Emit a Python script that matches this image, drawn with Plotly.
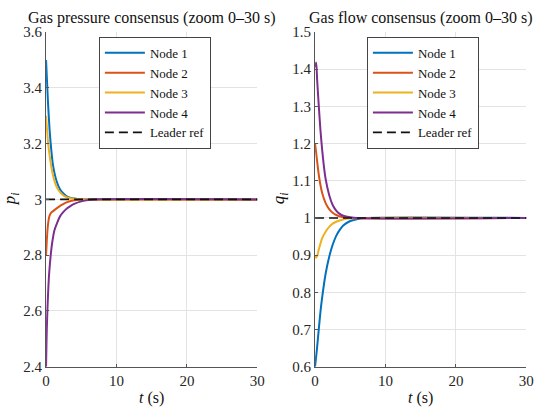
import plotly.graph_objects as go

# values (t in seconds)
t_p1 = [0, 0.25, 0.5, 0.75, 1, 1.5, 2, 2.5, 3, 4, 5, 6, 30]
p1 = [3.5, 3.36, 3.25, 3.175, 3.12, 3.065, 3.035, 3.02, 3.01, 3.003, 3.0, 3.0, 3.0]
t_p2 = [0, 0.1, 0.2, 0.3, 0.4, 0.5, 0.7, 1, 1.5, 2, 2.5, 3, 4, 5, 6, 30]
p2 = [2.8, 2.85, 2.89, 2.915, 2.932, 2.942, 2.952, 2.958, 2.968, 2.977, 2.984, 2.99, 2.997, 2.999, 3.0, 3.0]
t_p3 = [0, 0.3, 0.6, 1, 1.5, 2, 2.5, 3, 4, 5, 30]
p3 = [3.3, 3.2, 3.14, 3.085, 3.045, 3.025, 3.013, 3.007, 3.002, 3.0, 3.0]
t_p4 = [0, 0.05, 0.1, 0.2, 0.3, 0.4, 0.55, 0.7, 0.9, 1.2, 1.6, 2, 2.5, 3, 3.5, 4, 5, 6, 7, 30]
p4 = [2.4, 2.47, 2.53, 2.61, 2.67, 2.72, 2.77, 2.81, 2.85, 2.89, 2.918, 2.94, 2.956, 2.968,
      2.977, 2.984, 2.993, 2.998, 3.0, 3.0]

t_q1 = [0, 0.25, 0.5, 0.75, 1, 1.5, 2, 2.5, 3, 3.5, 4, 5, 6, 7, 30]
q1 = [0.6, 0.645, 0.695, 0.745, 0.785, 0.85, 0.895, 0.928, 0.952, 0.968, 0.98, 0.992, 0.997, 1.0, 1.0]
t_q2 = [0, 0.25, 0.5, 0.75, 1, 1.5, 2, 2.5, 3, 4, 5, 30]
q2 = [1.2, 1.16, 1.12, 1.09, 1.068, 1.04, 1.024, 1.014, 1.008, 1.002, 1.0, 1.0]
t_q3 = [0, 0.15, 0.3, 0.5, 0.75, 1, 1.5, 2, 2.5, 3, 4, 5, 6, 30]
q3 = [0.9, 0.893, 0.898, 0.913, 0.93, 0.945, 0.963, 0.976, 0.985, 0.99, 0.996, 0.999, 1.0, 1.0]
t_q4 = [0, 0.15, 0.3, 0.5, 0.75, 1, 1.25, 1.5, 2, 2.5, 3, 3.5, 4, 5, 6, 30]
q4 = [1.405, 1.418, 1.37, 1.31, 1.24, 1.185, 1.14, 1.105, 1.062, 1.035, 1.02, 1.011, 1.006, 1.002, 1.0, 1.0]

t_ref = [0, 30]
p_ref = [3.0, 3.0]
q_ref = [1.0, 1.0]

names = ['Node 1', 'Node 2', 'Node 3', 'Node 4']
colors = ['#0072BD', '#D95319', '#EDB120', '#7E2F8E']

FONT = 'Liberation Serif'

fig = go.Figure()

left = [(t_p1, p1), (t_p2, p2), (t_p3, p3), (t_p4, p4)]
right = [(t_q1, q1), (t_q2, q2), (t_q3, q3), (t_q4, q4)]

for (t, y), nm, c in zip(left, names, colors):
    fig.add_trace(go.Scatter(x=t, y=y, name=nm, mode='lines', line=dict(color=c, width=2, shape='spline', smoothing=0.8),
                             xaxis='x', yaxis='y', legend='legend'))
fig.add_trace(go.Scatter(x=t_ref, y=p_ref, name='Leader ref', mode='lines',
                         line=dict(color='#111111', width=1.6, dash='9px,5px'), xaxis='x', yaxis='y', legend='legend'))

for (t, y), nm, c in zip(right, names, colors):
    fig.add_trace(go.Scatter(x=t, y=y, name=nm, mode='lines', line=dict(color=c, width=2, shape='spline', smoothing=0.8),
                             xaxis='x2', yaxis='y2', legend='legend2'))
fig.add_trace(go.Scatter(x=t_ref, y=q_ref, name='Leader ref', mode='lines',
                         line=dict(color='#111111', width=1.6, dash='9px,5px'), xaxis='x2', yaxis='y2', legend='legend2'))

W, H = 550, 419
xd1 = [43 / W, 259 / W]
xd2 = [318 / W, 534 / W]
yd = [1 - 373 / H, 1 - 25 / H]

axis_common = dict(showgrid=True, gridcolor='#e3e3e3', gridwidth=1, zeroline=False,
                   showline=True, linecolor='#555555', linewidth=1,
                   ticks='inside', ticklen=3, tickcolor='#555555',
                   tickfont=dict(family=FONT, size=15, color='#262626'))

leg_common = dict(y=1 - 30 / H, xanchor='left', yanchor='top', bgcolor='white',
                  bordercolor='#444444', borderwidth=1, itemwidth=40,
                  font=dict(family=FONT, size=13, color='#111111'), tracegroupgap=0)

fig.update_layout(
    width=W, height=H,
    margin=dict(l=0, r=0, t=0, b=0),
    paper_bgcolor='white', plot_bgcolor='white',
    font=dict(family=FONT, size=14, color='#262626'),
    xaxis=dict(domain=xd1, range=[0, 30], tickvals=[0, 10, 20, 30], anchor='y', **axis_common),
    yaxis=dict(domain=yd, range=[2.4, 3.6], tickvals=[2.4, 2.6, 2.8, 3.0, 3.2, 3.4, 3.6],
               ticktext=['2.4', '2.6', '2.8', '3', '3.2', '3.4', '3.6'], anchor='x', **axis_common),
    xaxis2=dict(domain=xd2, range=[0, 30], tickvals=[0, 10, 20, 30], anchor='y2', **axis_common),
    yaxis2=dict(domain=yd, range=[0.6, 1.5], tickvals=[0.6, 0.7, 0.8, 0.9, 1.0, 1.1, 1.2, 1.3, 1.4, 1.5],
                ticktext=['0.6', '0.7', '0.8', '0.9', '1', '1.1', '1.2', '1.3', '1.4', '1.5'],
                anchor='x2', **axis_common),
    legend=dict(x=97 / W, **leg_common),
    legend2=dict(x=371 / W, **leg_common),
    showlegend=True,
)

titles = ['Gas pressure consensus (zoom 0–30 s)', 'Gas flow consensus (zoom 0–30 s)']
for txt, xd in zip(titles, [xd1, xd2]):
    fig.add_annotation(text=txt, x=(xd[0] + xd[1]) / 2, y=1 - 10.5 / H, xref='paper', yref='paper',
                       showarrow=False, xanchor='center', yanchor='middle',
                       font=dict(family=FONT, size=16, color='#111111'))

# axis titles
for xd in [xd1, xd2]:
    fig.add_annotation(text='<i>t</i> (s)', x=(xd[0] + xd[1]) / 2, y=1 - 406 / H, xref='paper', yref='paper',
                       showarrow=False, xanchor='center', yanchor='middle',
                       font=dict(family=FONT, size=16, color='#111111'))
fig.add_annotation(text='<i>p<sub>i</sub></i>', x=8 / W, y=1 - 198 / H, xref='paper', yref='paper',
                   showarrow=False, textangle=-90, xanchor='center', yanchor='middle',
                   font=dict(family=FONT, size=17, color='#111111'))
fig.add_annotation(text='<i>q<sub>i</sub></i>', x=283 / W, y=1 - 198 / H, xref='paper', yref='paper',
                   showarrow=False, textangle=-90, xanchor='center', yanchor='middle',
                   font=dict(family=FONT, size=17, color='#111111'))

fig.write_html('out.html', config={'displayModeBar': False},
               post_script="document.body.style.margin='0';")
